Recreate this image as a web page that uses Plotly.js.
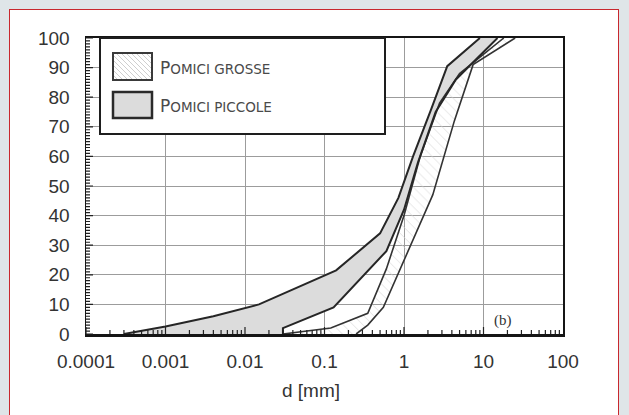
<!DOCTYPE html>
<html>
<head>
<meta charset="utf-8">
<script src="https://cdn.plot.ly/plotly-3.0.1.min.js"></script>
<style>
html,body{margin:0;padding:0;background:#dfe5e8;overflow:hidden;}
#wrap{position:relative;width:629px;height:415px;}
#panel{position:absolute;left:9px;top:9px;width:610px;height:420px;background:#ffffff;border:1.5px solid #c8282e;box-sizing:border-box;}
#chart{position:absolute;left:0;top:0;width:629px;height:415px;}
</style>
</head>
<body>
<div id="wrap"><div id="panel"></div><div id="chart"></div></div>
<script>
// ---- data ----
// Pomici piccole: upper (finer) and lower boundary of the grey band
const piccoleUpperD = [0.0003, 0.001, 0.004, 0.015, 0.14, 0.5, 0.85, 1.3, 2.2, 3.5, 9];
const piccoleUpperP = [0, 2.5, 6, 10, 21.5, 34, 46, 60, 76, 90.5, 100];
const piccoleLowerD = [0.03, 0.03, 0.13, 0.6, 1.0, 1.5, 2.5, 4.5, 15];
const piccoleLowerP = [0, 2, 9, 28, 42, 58, 75, 86, 100];
// Pomici grosse: upper and lower boundary of the hatched band
const grosseUpperD = [0.03, 0.12, 0.35, 0.6, 1.0, 1.6, 2.8, 5, 18];
const grosseUpperP = [0, 2, 7, 22, 40, 60, 78, 88, 100];
const grosseLowerD = [0.25, 0.35, 0.55, 1.0, 2.3, 4.3, 7.4, 25];
const grosseLowerP = [0, 3, 9, 25, 47, 72, 91, 100];

const xTickText = ['0.0001', '0.001', '0.01', '0.1', '1', '10', '100'];
const legendLabels = ['Pomici grosse', 'Pomici piccole'];
const xTitle = 'd [mm]';
const panelLabel = '(b)';

// ---- geometry helpers ----
const W = 629, H = 415, ML = 86, MR = 66, MT = 38, MB = 81;
const PW = W - ML - MR, PH = H - MT - MB;
const px2x = p => (p - ML) / PW;
const px2y = p => (H - MB - p) / PH;
const X_MIN = -4, X_MAX = 2;

function band(upD, upP, loD, loP) {
  return { x: upD.concat(loD.slice().reverse()), y: upP.concat(loP.slice().reverse()) };
}
const gBand = band(piccoleUpperD, piccoleUpperP, piccoleLowerD, piccoleLowerP);
const hBand = band(grosseUpperD, grosseUpperP, grosseLowerD, grosseLowerP);

const lineStyle = { color: '#262626', width: 2 };
const lineStyle2 = { color: '#333333', width: 1.6 };
const traces = [
  { x: gBand.x, y: gBand.y, type: 'scatter', mode: 'lines', fill: 'toself',
    fillcolor: '#dcdcdc', line: { width: 0 }, hoverinfo: 'skip', name: legendLabels[1] },
  { x: hBand.x, y: hBand.y, type: 'scatter', mode: 'lines', fill: 'toself',
    fillcolor: 'rgba(255,255,255,0)', line: { width: 0 },
    fillpattern: { shape: '\\', fgcolor: '#d6d6d6', bgcolor: 'rgba(255,255,255,0)', size: 7, solidity: 0.1 },
    hoverinfo: 'skip', name: legendLabels[0] },
  { x: grosseUpperD, y: grosseUpperP, type: 'scatter', mode: 'lines', line: lineStyle2 },
  { x: grosseLowerD, y: grosseLowerP, type: 'scatter', mode: 'lines', line: lineStyle2 },
  { x: piccoleUpperD, y: piccoleUpperP, type: 'scatter', mode: 'lines', line: lineStyle },
  { x: piccoleLowerD, y: piccoleLowerP, type: 'scatter', mode: 'lines', line: lineStyle }
];

// hatch path for the legend swatch (in paper coords)
function hatchPath(x0, y0, x1, y1, step) {
  let d = '';
  const h = y1 - y0;
  for (let t = -h; t < (x1 - x0); t += step) {
    let sx = x0 + t, sy = y0, ex = x0 + t + h, ey = y1;
    if (sx < x0) { sy = y0 + (x0 - sx); sx = x0; }
    if (ex > x1) { ey = y1 - (ex - x1); ex = x1; }
    d += `M${px2x(sx)},${px2y(sy)}L${px2x(ex)},${px2y(ey)}`;
  }
  return d;
}

// inside tick "rulers" along the left and bottom axes
function yRuler() {
  let d = '';
  for (let v = 0; v <= 100; v += 1) {
    const len = (v % 10 === 0) ? 7 : 4;
    d += `M0,${v / 100}L${len / PW},${v / 100}`;
  }
  return d;
}
function xRuler() {
  let d = '';
  for (let dec = X_MIN; dec < X_MAX; dec++) {
    for (let m = 1; m <= 9; m++) {
      const p = (dec + Math.log10(m) - X_MIN) / (X_MAX - X_MIN);
      const len = m === 1 ? 7 : 4;
      d += `M${p},0L${p},${len / PH}`;
    }
  }
  return d;
}

const shapes = [
  // legend box
  { type: 'rect', xref: 'paper', yref: 'paper', x0: px2x(100), x1: px2x(385), y0: px2y(134), y1: px2y(38),
    fillcolor: '#ffffff', line: { color: '#1e1e1e', width: 2 } },
  // hatched swatch
  { type: 'path', xref: 'paper', yref: 'paper', path: hatchPath(113, 53, 152, 80, 5),
    line: { color: '#cfcfcf', width: 1 } },
  { type: 'rect', xref: 'paper', yref: 'paper', x0: px2x(113), x1: px2x(152), y0: px2y(80), y1: px2y(53),
    line: { color: '#3a3a3a', width: 2 } },
  // grey swatch
  { type: 'rect', xref: 'paper', yref: 'paper', x0: px2x(113), x1: px2x(152), y0: px2y(118), y1: px2y(92),
    fillcolor: '#dcdcdc', line: { color: '#2a2a2a', width: 2.5 } },
  // axis rulers
  { type: 'path', xref: 'paper', yref: 'paper', path: yRuler(), line: { color: '#222222', width: 1.2 } },
  { type: 'path', xref: 'paper', yref: 'paper', path: xRuler(), line: { color: '#222222', width: 1.2 } }
];

function smallCaps(s) {
  const up = s.toUpperCase();
  return up[0] + '<span style="font-size:13.5px">' + up.slice(1) + '</span>';
}

const annotations = [
  { xref: 'paper', yref: 'paper', x: px2x(158), y: px2y(68), xanchor: 'left', yanchor: 'middle',
    text: smallCaps(legendLabels[0]), showarrow: false,
    font: { family: 'DejaVu Sans', size: 17, color: '#4a4a4a' } },
  { xref: 'paper', yref: 'paper', x: px2x(158), y: px2y(106), xanchor: 'left', yanchor: 'middle',
    text: smallCaps(legendLabels[1]), showarrow: false,
    font: { family: 'DejaVu Sans', size: 17, color: '#4a4a4a' } },
  { xref: 'paper', yref: 'paper', x: px2x(311), y: px2y(390), xanchor: 'center', yanchor: 'middle',
    text: xTitle, showarrow: false, font: { family: 'Liberation Sans, Arial', size: 19, color: '#333' } },
  { xref: 'x', yref: 'y', x: Math.log10(17.5), y: 4.5, xanchor: 'center', yanchor: 'middle',
    text: panelLabel, showarrow: false, font: { family: 'Liberation Serif', size: 15, color: '#333' } }
];

const layout = {
  width: W, height: H,
  margin: { l: ML, r: MR, t: MT, b: MB, pad: 0 },
  paper_bgcolor: 'rgba(0,0,0,0)', plot_bgcolor: '#ffffff',
  showlegend: false,
  xaxis: {
    type: 'log', range: [X_MIN, X_MAX], tickmode: 'array',
    tickvals: xTickText.map(Number), ticktext: xTickText,
    showgrid: true, gridcolor: '#9c9c9c', gridwidth: 1,
    showline: true, linecolor: '#151515', linewidth: 2.5, mirror: true,
    ticks: '', ticklabelstandoff: 9,
    tickfont: { family: 'Liberation Sans, Arial', size: 19, color: '#333' },
    zeroline: false
  },
  yaxis: {
    range: [0, 100], tick0: 0, dtick: 10,
    showgrid: true, gridcolor: '#9c9c9c', gridwidth: 1,
    showline: true, linecolor: '#151515', linewidth: 1.5, mirror: true,
    ticks: '', ticklabelstandoff: 11,
    tickfont: { family: 'Liberation Sans, Arial', size: 19, color: '#333' },
    zeroline: false
  },
  shapes: shapes,
  annotations: annotations
};

Plotly.newPlot('chart', traces, layout, { staticPlot: true, displayModeBar: false });
</script>
</body>
</html>
